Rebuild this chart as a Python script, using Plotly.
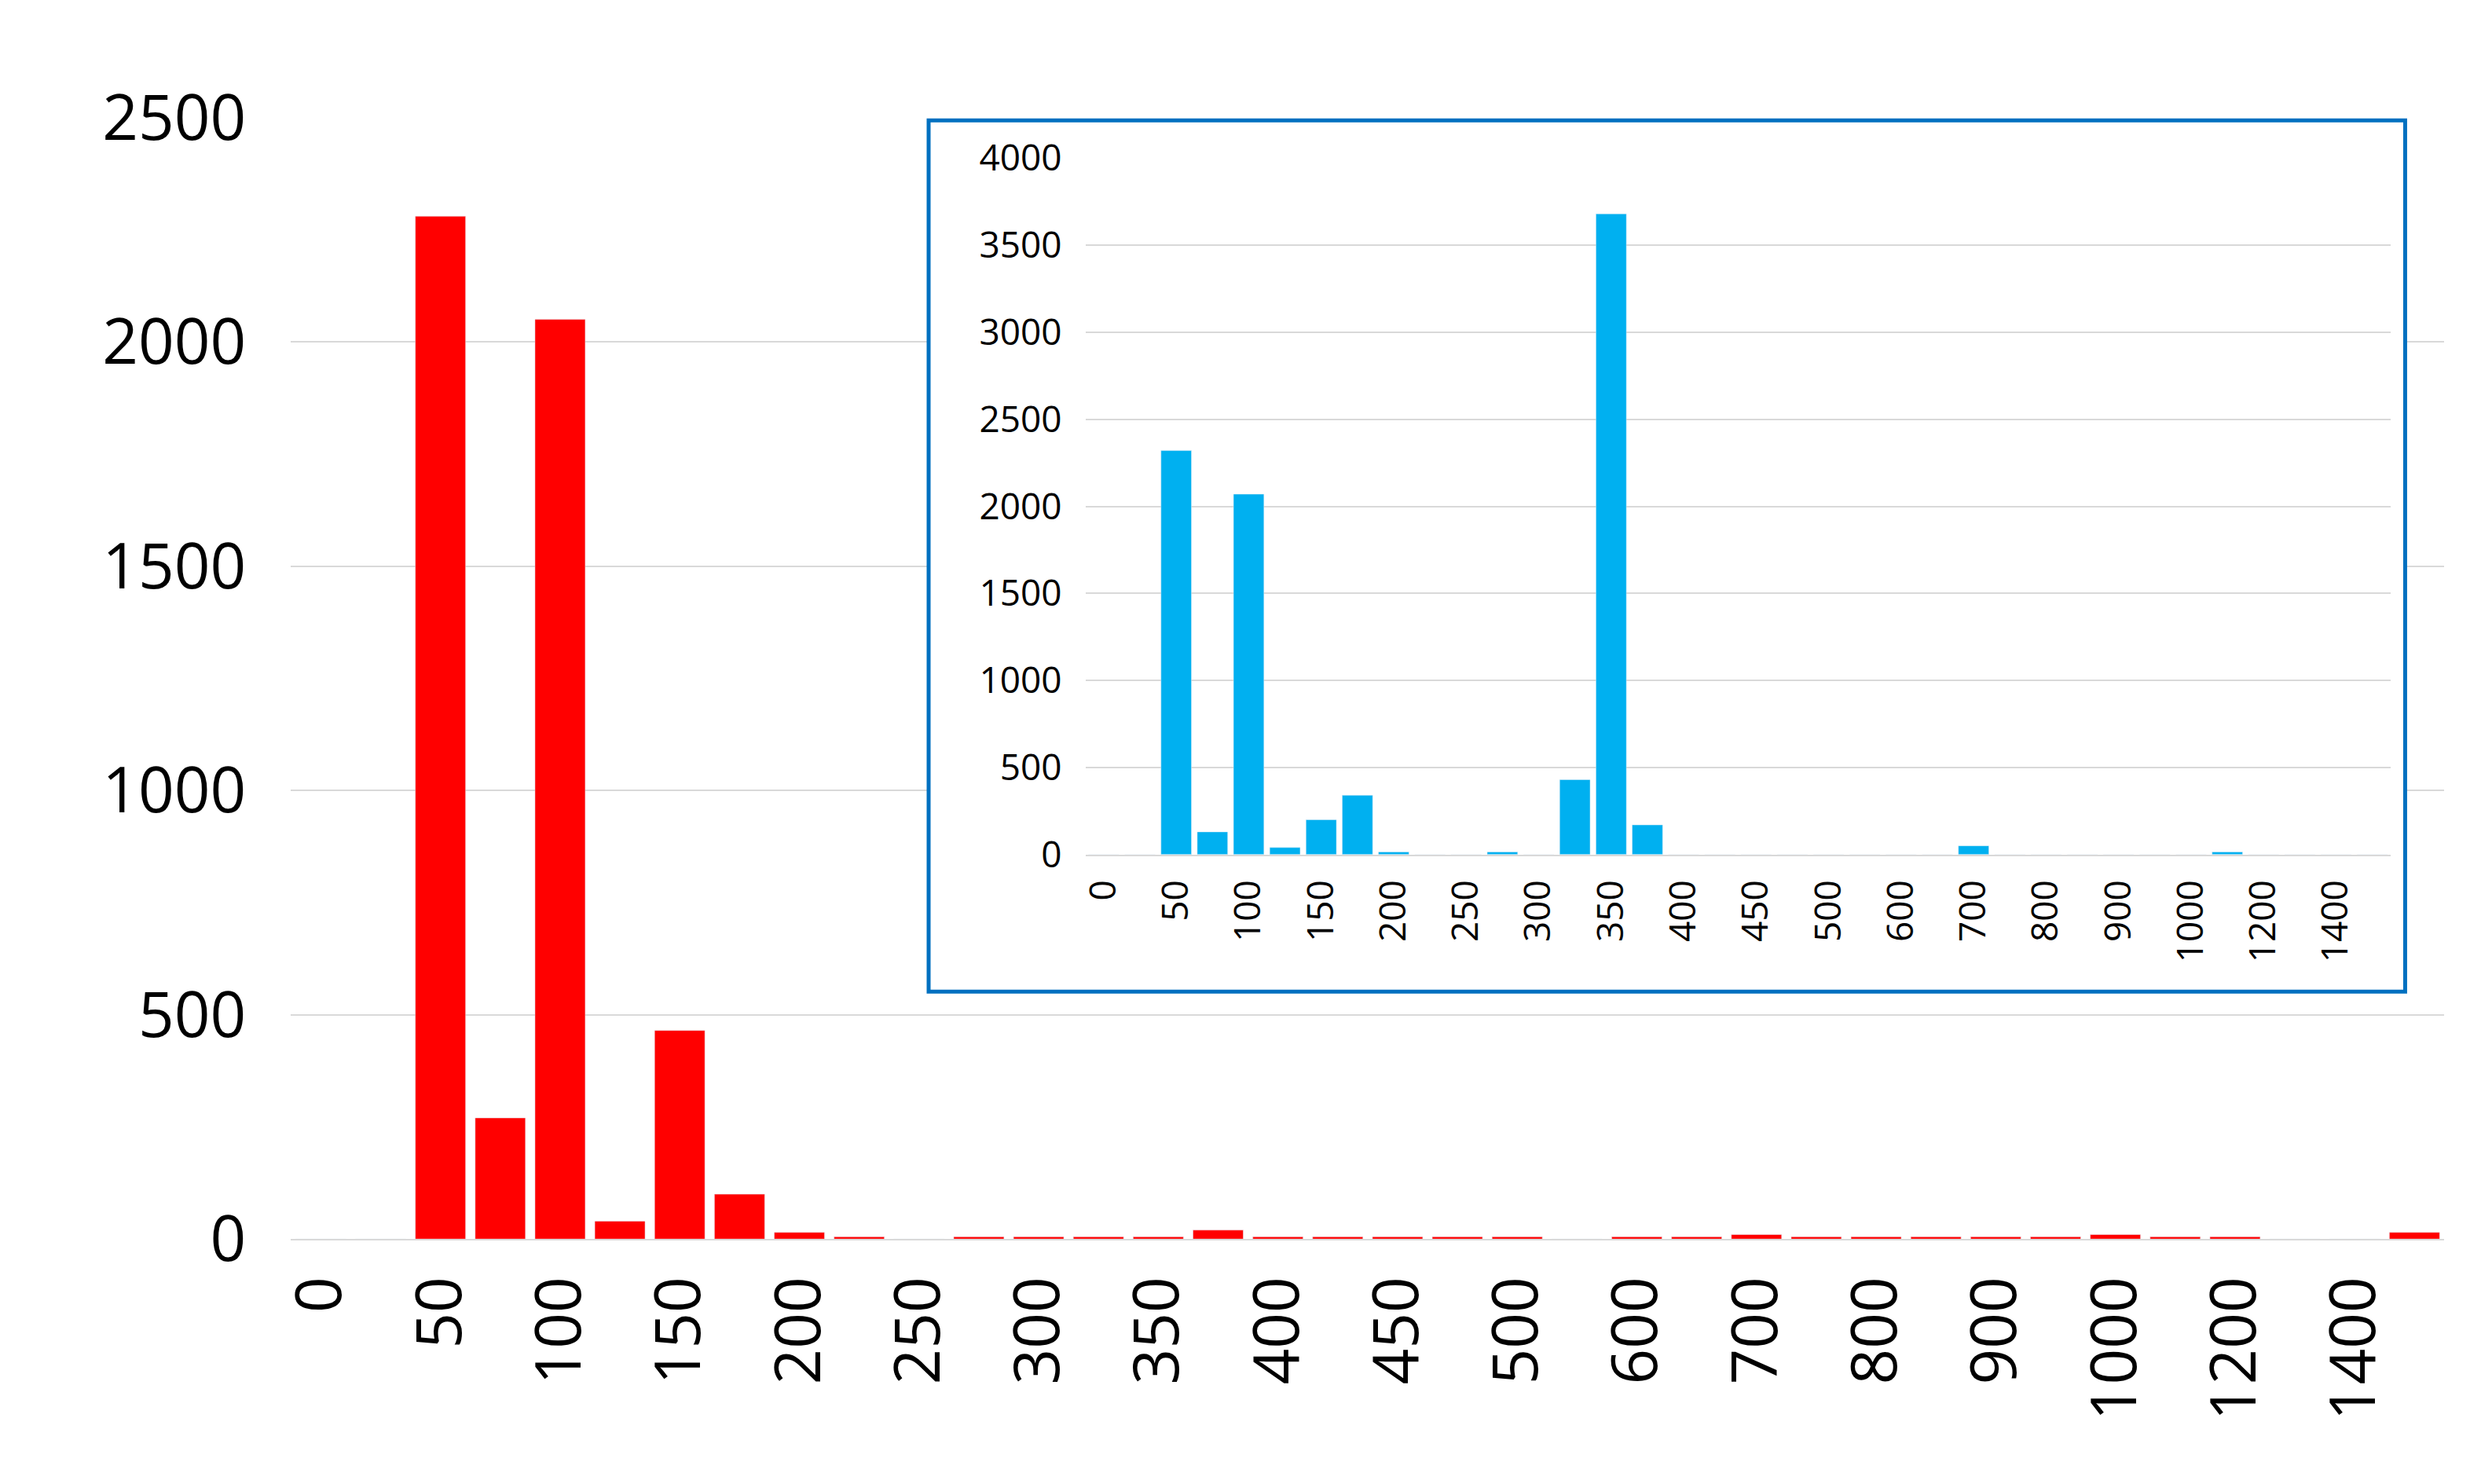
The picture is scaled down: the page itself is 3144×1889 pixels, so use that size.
import plotly.graph_objects as go

categories = [0,25,50,75,100,125,150,175,200,225,250,275,300,325,350,375,400,425,450,475,500,
              550,600,650,700,750,800,850,900,950,1000,1100,1200,1300,1400,1500]
main_values = [0,0,2280,270,2050,40,465,100,15,5,0,5,5,5,5,20,5,5,5,5,5,
               0,5,5,10,5,5,5,5,5,10,5,5,0,0,15]
inset_values = [0,0,2320,130,2070,40,200,340,15,0,0,15,0,430,3680,170,0,0,0,0,0,
                0,0,0,50,0,0,0,0,0,0,15,0,0,0,0]
tick_labels = ["0","50","100","150","200","250","300","350","400","450","500",
               "600","700","800","900","1000","1200","1400"]

cat_str = [str(c) for c in categories]
tickvals = [str(t) for t in tick_labels]

fig = go.Figure()
fig.add_trace(go.Bar(x=cat_str, y=main_values, marker_color="#ff0000", xaxis="x", yaxis="y"))
fig.add_trace(go.Bar(x=cat_str, y=inset_values, marker_color="#00b0f0", xaxis="x2", yaxis="y2"))

font = "Open Sans"
fig.update_layout(
    width=3144, height=1889, margin=dict(l=0, r=0, t=0, b=0),
    paper_bgcolor="white", plot_bgcolor="white", showlegend=False, bargap=0.16,
    font=dict(family=font, color="black"),
    xaxis=dict(domain=[0.109, 0.987], type="category", range=[-0.5, 35.5], tickmode="array",
               tickvals=tickvals, ticktext=tick_labels, tickangle=-90, tickfont=dict(size=80),
               showgrid=False, showline=True, linecolor="#d9d9d9", linewidth=2, ticks="outside",
               ticklen=14, tickcolor="white"),
    yaxis=dict(domain=[0.151, 0.953], range=[0, 2500], dtick=500, tickfont=dict(size=80),
               gridcolor="#d9d9d9", gridwidth=2, zeroline=False, ticks="outside", ticklen=40,
               tickcolor="white", showline=False),
    xaxis2=dict(domain=[0.433, 0.965], anchor="y2", type="category", range=[-0.5, 35.5],
                tickmode="array", tickvals=tickvals, ticktext=tick_labels, tickangle=-90,
                tickfont=dict(size=46), showgrid=False, showline=True, linecolor="#d9d9d9",
                linewidth=2, ticks="outside", ticklen=12, tickcolor="white"),
    yaxis2=dict(domain=[0.426, 0.924], anchor="x2", range=[0, 4000], dtick=500,
                tickfont=dict(size=46), gridcolor="#d9d9d9", gridwidth=2, zeroline=False,
                ticks="outside", ticklen=20, tickcolor="white"),
    shapes=[
        dict(type="rect", xref="x", yref="y", x0=10.16, x1=34.85, y0=552, y1=2495,
             fillcolor="white", line=dict(width=0), layer="between"),
        dict(type="rect", xref="paper", yref="paper", x0=0.369, x1=0.971, y0=0.328, y1=0.951,
             fillcolor="rgba(0,0,0,0)", line=dict(color="#0070c0", width=5), layer="above"),
    ],
)
fig.write_html("out.html")
